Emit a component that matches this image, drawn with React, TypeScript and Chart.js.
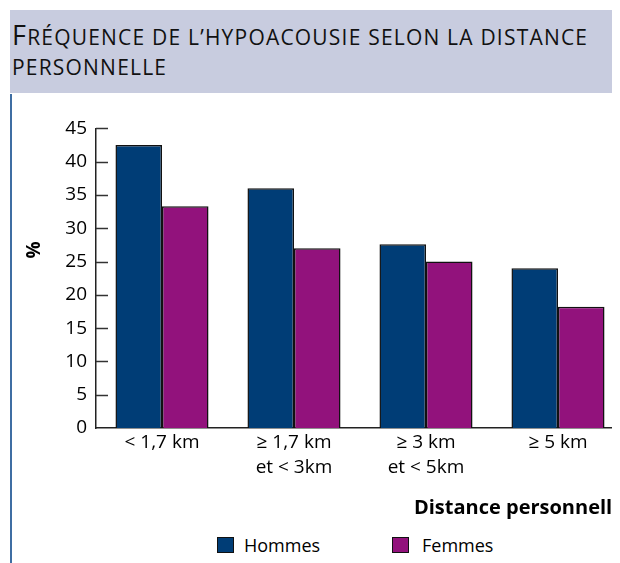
import React, { useEffect, useRef } from "react";
import { Chart, registerables } from "chart.js";

Chart.register(...registerables);

const categories: string[][] = [["< 1,7 km"], ["≥ 1,7 km", "et < 3km"], ["≥ 3 km", "et < 5km"], ["≥ 5 km"]];
const hommes: number[] = [42.5, 36, 27.6, 24];
const femmes: number[] = [33.3, 27, 25, 18.2];
const seriesNames: string[] = ["Hommes", "Femmes"];
const yTicks: number[] = [0, 5, 10, 15, 20, 25, 30, 35, 40, 45];
const titleFirst = "F";
const titleRest = "réquence de l’hypoacousie selon la distance personnelle";
const yTitle = "%";
const xTitle = "Distance personnelle";

const NAVY = "#003D76";
const MAGENTA = "#92127C";
const FONT = "'Open Sans', 'Noto Sans', sans-serif";

const inwardTicks = {
  id: "inwardTicks",
  afterDraw(chart: any) {
    const y = chart.scales.y;
    const ctx = chart.ctx;
    ctx.save();
    ctx.strokeStyle = "#333";
    ctx.lineWidth = 1.5;
    yTicks.forEach((v) => {
      if (v === 0) return;
      const py = Math.round(y.getPixelForValue(v)) + 0.5;
      ctx.beginPath();
      ctx.moveTo(chart.chartArea.left, py);
      ctx.lineTo(chart.chartArea.left + 12, py);
      ctx.stroke();
    });
    ctx.restore();
  },
};

export default function App() {
  const ref = useRef<HTMLCanvasElement>(null);
  useEffect(() => {
    if (!ref.current) return;
    const chart = new Chart(ref.current, {
      type: "bar",
      data: {
        labels: categories,
        datasets: [
          { label: seriesNames[0], data: hommes, backgroundColor: NAVY, borderColor: "#111", borderWidth: 1.5 },
          { label: seriesNames[1], data: femmes, backgroundColor: MAGENTA, borderColor: "#111", borderWidth: 1.5 },
        ],
      },
      options: {
        animation: false,
        responsive: false,
        maintainAspectRatio: false,
        layout: { padding: { top: 20, left: 0, right: 0, bottom: 0 } },
        datasets: { bar: { categoryPercentage: 0.705, barPercentage: 1 } },
        plugins: { legend: { display: false }, tooltip: { enabled: false } },
        scales: {
          x: {
            grid: { display: false, drawTicks: false },
            border: { display: true, color: "#222", width: 1.5 },
            ticks: { color: "#000", font: { family: FONT, size: 19, lineHeight: 1.27 }, padding: 3, maxRotation: 0, autoSkip: false },
            title: {
              display: true,
              text: xTitle,
              align: "end",
              color: "#000",
              font: { family: FONT, size: 20, weight: "bold" },
              padding: { top: 0, bottom: 5 },
            },
            afterFit: (s: any) => { s.height = 97; },
          },
          y: {
            min: 0,
            max: 45,
            afterBuildTicks: (s: any) => { s.ticks = yTicks.map((v) => ({ value: v })); },
            grid: { display: false, drawTicks: false },
            border: { display: true, color: "#222", width: 1.5 },
            ticks: { color: "#000", font: { family: FONT, size: 19 }, padding: 9 },
            title: { display: false },
            afterFit: (s: any) => { s.width = 88; },
          },
        },
      },
      plugins: [inwardTicks],
    });
    return () => chart.destroy();
  }, []);

  return (
    <div style={{ position: "relative", width: 612, height: 555, overflow: "hidden", fontFamily: FONT }}>
      <div
        style={{
          position: "absolute",
          left: 2,
          top: 2,
          width: 620,
          height: 83,
          background: "#C8CCDF",
          boxSizing: "border-box",
          padding: "10px 0 0 2px",
          color: "#111",
        }}
      >
        <div
          style={{
            width: 596,
            fontFamily: "'Open Sans', Lato, sans-serif",
            textTransform: "uppercase",
            fontSize: 21,
            letterSpacing: 1.2,
            lineHeight: "30px",
          }}
        >
          <span style={{ fontSize: 27 }}>{titleFirst}</span>
          {titleRest}
        </div>
      </div>
      <div style={{ position: "absolute", left: 2, top: 86, width: 2, height: 480, background: "#3F6EA3" }} />
      <canvas ref={ref} width={616} height={417} style={{ position: "absolute", left: 0, top: 100, width: 616, height: 417 }} />
      <div
        style={{
          position: "absolute",
          left: 15,
          top: 232,
          width: 20,
          height: 20,
          display: "flex",
          alignItems: "center",
          justifyContent: "center",
          fontSize: 19,
          fontWeight: "bold",
          color: "#000",
          transform: "rotate(-90deg)",
        }}
      >
        {yTitle}
      </div>
      <div style={{ position: "absolute", left: 209, top: 525, display: "flex", alignItems: "center", fontSize: 18, color: "#000" }}>
        <span style={{ display: "inline-block", width: 15, height: 14, background: NAVY, border: "1px solid #111", marginRight: 10 }} />
        <span style={{ width: 148 }}>{seriesNames[0]}</span>
        <span style={{ display: "inline-block", width: 15, height: 14, background: MAGENTA, border: "1px solid #111", marginRight: 13 }} />
        <span>{seriesNames[1]}</span>
      </div>
    </div>
  );
}
